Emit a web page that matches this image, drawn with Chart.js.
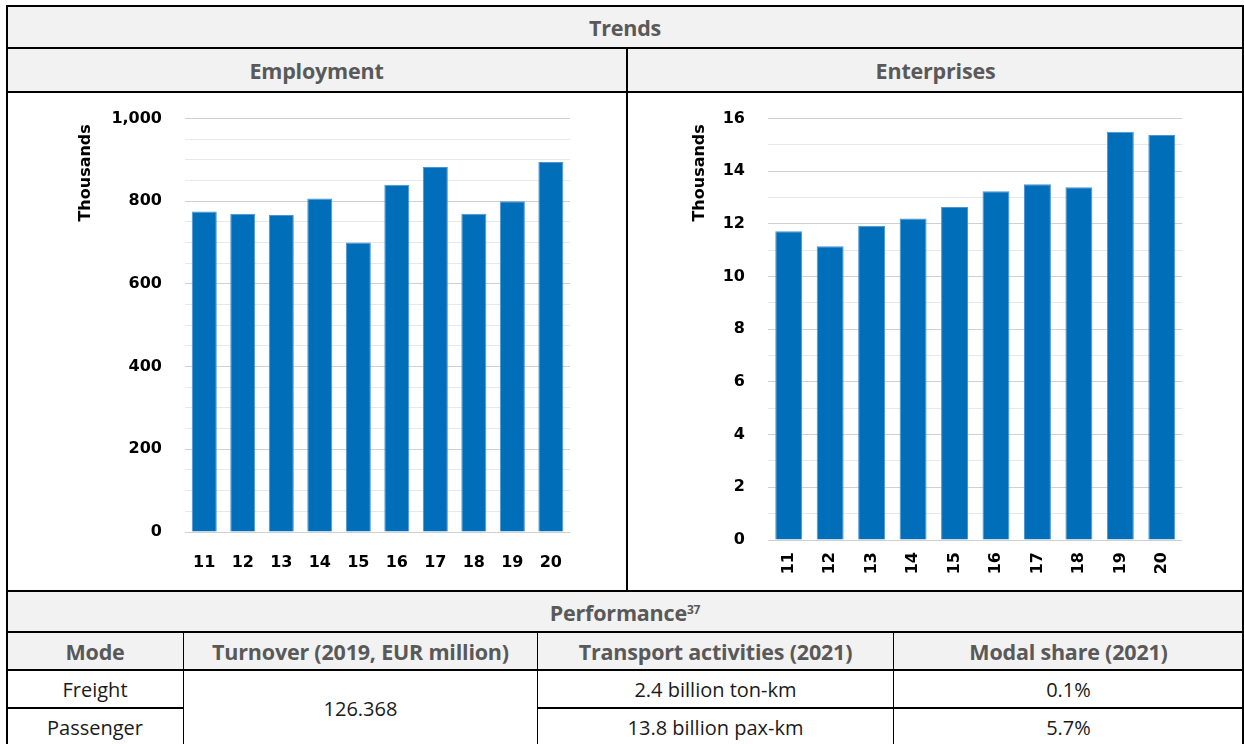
<!DOCTYPE html>
<html>
<head>
<meta charset="utf-8">
<script src="https://cdn.jsdelivr.net/npm/chart.js@4.4.0/dist/chart.umd.min.js"></script>
<style>
  body { margin: 0; width: 1244px; height: 744px; overflow: hidden; background: #fff; position: relative; font-family: "Open Sans", sans-serif; }
  .cell { position: absolute; display: flex; align-items: center; justify-content: center; box-sizing: border-box; }
  .grey { background: #f2f2f2; }
  .h { font-weight: 700; color: #595959; font-size: 21.5px; letter-spacing: -0.2px; }
  .d { color: #1a1a1a; font-size: 20px; }
  .ln { position: absolute; background: #000; }
  canvas { position: absolute; }
  sup { font-size: 12px; position: relative; top: -3px; }
</style>
</head>
<body>
<!-- grey header bands -->
<div class="cell grey h" style="left:7px;top:6px;width:1236px;height:42px;">Trends</div>
<div class="cell grey h" style="left:7px;top:49px;width:619px;height:43px;">Employment</div>
<div class="cell grey h" style="left:628px;top:49px;width:615px;height:43px;">Enterprises</div>
<div class="cell grey h" style="left:7px;top:592px;width:1236px;height:40px;">Performance<sup>37</sup></div>
<div class="cell grey h" style="left:7px;top:633px;width:176px;height:37px;">Mode</div>
<div class="cell grey h" style="left:184px;top:633px;width:353px;height:37px;">Turnover (2019, EUR million)</div>
<div class="cell grey h" style="left:538px;top:633px;width:355px;height:37px;">Transport activities (2021)</div>
<div class="cell grey h" style="left:894px;top:633px;width:349px;height:37px;">Modal share (2021)</div>

<div class="cell d" style="left:7px;top:671px;width:176px;height:37px;">Freight</div>
<div class="cell d" style="left:7px;top:709px;width:176px;height:37px;">Passenger</div>
<div class="cell d" style="left:184px;top:671px;width:353px;height:75px;">126.368</div>
<div class="cell d" style="left:538px;top:671px;width:355px;height:37px;">2.4 billion ton-km</div>
<div class="cell d" style="left:538px;top:709px;width:355px;height:37px;">13.8 billion pax-km</div>
<div class="cell d" style="left:894px;top:671px;width:349px;height:37px;">0.1%</div>
<div class="cell d" style="left:894px;top:709px;width:349px;height:37px;">5.7%</div>

<!-- table rules -->
<div class="ln" style="left:6px;top:5px;width:1238px;height:2px;"></div>
<div class="ln" style="left:6px;top:47px;width:1238px;height:2px;"></div>
<div class="ln" style="left:6px;top:91px;width:1238px;height:2px;"></div>
<div class="ln" style="left:6px;top:590px;width:1238px;height:2px;"></div>
<div class="ln" style="left:6px;top:631px;width:1238px;height:2px;"></div>
<div class="ln" style="left:6px;top:669px;width:1238px;height:2px;"></div>
<div class="ln" style="left:6px;top:707px;width:177px;height:2px;"></div>
<div class="ln" style="left:537px;top:707px;width:707px;height:2px;"></div>
<div class="ln" style="left:6px;top:5px;width:2px;height:740px;"></div>
<div class="ln" style="left:1242px;top:5px;width:2px;height:740px;"></div>
<div class="ln" style="left:626px;top:47px;width:2px;height:545px;"></div>
<div class="ln" style="left:183px;top:631px;width:1px;height:114px;"></div>
<div class="ln" style="left:537px;top:631px;width:1px;height:114px;"></div>
<div class="ln" style="left:893px;top:631px;width:1px;height:114px;"></div>

<canvas id="emp" width="515" height="494" style="left:60px;top:86px;"></canvas>
<canvas id="ent" width="505" height="499" style="left:680px;top:86px;"></canvas>

<script>
const years = ['11', '12', '13', '14', '15', '16', '17', '18', '19', '20'];
const employment = [775, 770, 767, 807, 700, 840, 883, 770, 800, 895];
const enterprises = [11.72, 11.15, 11.93, 12.21, 12.64, 13.24, 13.51, 13.39, 15.50, 15.38];
const employmentTicks = [0, 200, 400, 600, 800, 1000];
const enterpriseTicks = [0, 2, 4, 6, 8, 10, 12, 14, 16];

Chart.defaults.font.family = '"DejaVu Sans", sans-serif';

function barChart(id, values, tickLabels, minorStep, o) {
  const max = tickLabels[tickLabels.length - 1];
  return new Chart(document.getElementById(id), {
    type: 'bar',
    data: {
      labels: years,
      datasets: [{
        data: values,
        backgroundColor: '#006eb9',
        borderColor: '#4a94d2',
        borderWidth: 1,
        barPercentage: 0.65,
        categoryPercentage: 1
      }]
    },
    options: {
      responsive: false,
      animation: false,
      layout: { padding: { top: 0, right: 0, left: 0, bottom: 0 } },
      plugins: { legend: { display: false }, tooltip: { enabled: false } },
      scales: {
        x: {
          grid: { display: false },
          border: { display: false },
          ticks: {
            color: '#000', font: { weight: 'bold', size: 16 }, padding: o.xPad,
            maxRotation: o.rot, minRotation: o.rot, autoSkip: false
          },
          afterFit: s => { s.height = o.xH; }
        },
        y: {
          min: 0,
          max: max,
          border: { display: false },
          grid: {
            drawTicks: false,
            lineWidth: 1,
            color: c => (c.tick && tickLabels.includes(c.tick.value)) ? '#d0d0d0' : '#e8e8e8'
          },
          ticks: {
            stepSize: minorStep, autoSkip: false, padding: o.yPad, color: '#000',
            font: { weight: 'bold', size: 16 },
            callback: v => tickLabels.includes(v) ? v.toLocaleString('en-US') : ''
          },
          title: {
            display: true, text: 'Thousands ', align: 'end', color: '#000',
            font: { weight: 'bold', size: 16 }, padding: { top: o.titlePad, bottom: 0 }
          },
          afterFit: s => { s.width = o.yW; }
        }
      }
    }
  });
}

barChart('emp', employment, employmentTicks, 50,
  { xPad: 13, rot: 0, xH: 48, yPad: 23, titlePad: 16, yW: 125 });
barChart('ent', enterprises, enterpriseTicks, 1,
  { xPad: 4, rot: 90, xH: 45, yPad: 23, titlePad: 10, yW: 88 });
</script>
</body>
</html>
